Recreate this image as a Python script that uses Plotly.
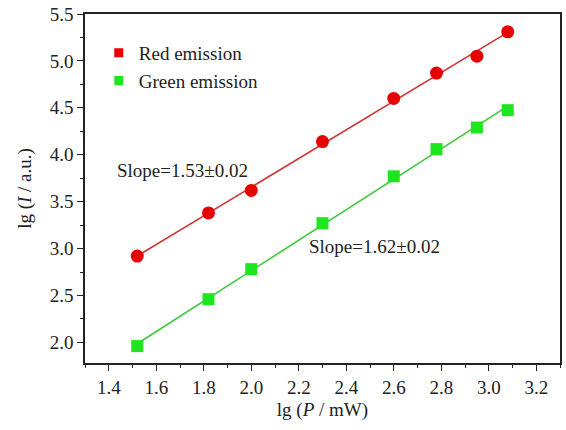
import numpy as np
import plotly.graph_objects as go

lg_p = [1.52, 1.82, 2.00, 2.30, 2.60, 2.78, 2.95, 3.08]
red_lgI = [2.92, 3.38, 3.62, 4.14, 4.60, 4.87, 5.05, 5.31]
green_lgI = [1.96, 2.46, 2.78, 3.27, 3.77, 4.06, 4.29, 4.475]
x_ticks = [1.4, 1.6, 1.8, 2.0, 2.2, 2.4, 2.6, 2.8, 3.0, 3.2]
y_ticks = [2.0, 2.5, 3.0, 3.5, 4.0, 4.5, 5.0, 5.5]

FONT = "Liberation Serif"
x = np.array(lg_p)
xf = np.array([x.min(), x.max()])

fig = go.Figure()
series = [
    (red_lgI, "#e80000", "#d03434", "circle", 13, "Red emission"),
    (green_lgI, "#1ee61e", "#3cc83c", "square", 12, "Green emission"),
]
for ys, mcol, lcol, sym, msize, name in series:
    k, b = np.polyfit(x, np.array(ys), 1)
    fig.add_trace(go.Scatter(x=xf, y=k * xf + b, mode="lines",
                             line=dict(color=lcol, width=1.6),
                             showlegend=False, hoverinfo="skip"))
    fig.add_trace(go.Scatter(x=lg_p, y=ys, mode="markers", showlegend=False,
                             marker=dict(color=mcol, size=msize, symbol=sym,
                                         line=dict(width=0))))
# legend entries (square swatches, as in the reference)
for ys, mcol, lcol, sym, msize, name in series:
    fig.add_trace(go.Scatter(x=[None], y=[None], mode="markers", name=name,
                             marker=dict(color=mcol, size=9, symbol="square",
                                         line=dict(width=0))))

fig.add_annotation(x=1.426, y=3.835, text="Slope=1.53±0.02", showarrow=False,
                   xanchor="left", font=dict(family=FONT, size=19, color="#222"))
fig.add_annotation(x=2.235, y=3.024, text="Slope=1.62±0.02", showarrow=False,
                   xanchor="left", font=dict(family=FONT, size=19, color="#222"))

axis_common = dict(showgrid=False, zeroline=False, showline=True, linecolor="#222",
                   linewidth=1.5, mirror=True, ticks="outside", ticklen=6,
                   tickwidth=1.3, tickcolor="#222",
                   tickfont=dict(family=FONT, size=19, color="#222"))
fig.update_xaxes(range=[1.3, 3.3], tickvals=x_ticks,
                 ticktext=[f"{v:.1f}" for v in x_ticks],
                 minor=dict(dtick=0.1, ticks="outside", ticklen=3, tickcolor="#222"),
                 title=dict(text="lg (<i>P</i> / mW)", font=dict(family=FONT, size=19, color="#222"), standoff=6),
                 **axis_common)
fig.update_yaxes(range=[1.78, 5.5], tickvals=y_ticks,
                 ticktext=[f"{v:.1f}" for v in y_ticks],
                 minor=dict(dtick=0.25, ticks="outside", ticklen=3, tickcolor="#222"),
                 title=dict(text="lg (<i>I</i> / a.u.)", font=dict(family=FONT, size=19, color="#222"), standoff=13),
                 **axis_common)

fig.update_layout(width=566, height=430, margin=dict(l=85, r=4, t=14, b=67),
                  plot_bgcolor="white", paper_bgcolor="white",
                  legend=dict(x=0.029, y=0.943, xanchor="left", yanchor="top",
                              font=dict(family=FONT, size=19, color="#222"),
                              bgcolor="rgba(0,0,0,0)", itemsizing="trace",
                              tracegroupgap=0),
                  )
fig.write_html("out.html")
